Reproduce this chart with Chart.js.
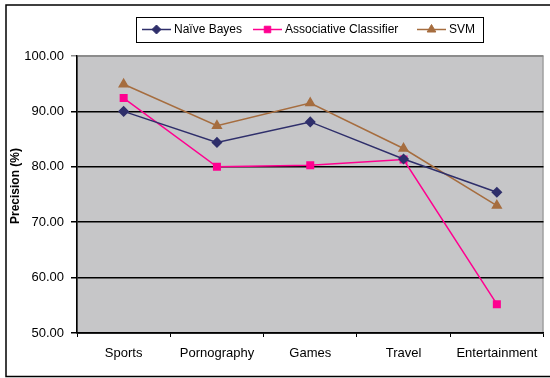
<!DOCTYPE html>
<html>
<head>
<meta charset="utf-8">
<script src="https://cdn.jsdelivr.net/npm/chart.js@4/dist/chart.umd.min.js"></script>
<style>
  html, body { margin: 0; padding: 0; background: #fff; }
  #wrap { width: 550px; height: 378px; }
</style>
</head>
<body>
<div id="wrap"><canvas id="precisionChart" width="550" height="378"></canvas></div>
<script>
// Precision per category for each classifier
const categories = ['Sports', 'Pornography', 'Games', 'Travel', 'Entertainment'];
const naiveBayes = [90.0, 84.4, 88.1, 81.4, 75.4];
const associative = [92.4, 80.0, 80.3, 81.3, 55.2];
const svm = [94.9, 87.4, 91.5, 83.3, 73.0];
const yTicks = [50, 60, 70, 80, 90, 100];
const yTitle = 'Precision (%)';

const FONT = 'Liberation Sans, Arial, Helvetica, sans-serif';

// plot area fill, outer frame, axis title and the boxed legend
const framePlugin = {
  id: 'frame',
  beforeDraw(chart) {
    const { ctx, chartArea: a } = chart;
    ctx.save();
    ctx.fillStyle = '#fff';
    ctx.fillRect(0, 0, chart.width, chart.height);
    ctx.fillStyle = '#c6c6c8';
    ctx.fillRect(a.left, a.top, a.right - a.left, a.bottom - a.top);
    ctx.strokeStyle = '#8c8c8c';
    ctx.lineWidth = 1;
    ctx.strokeRect(a.left + 0.5, a.top + 0.5, a.right - a.left - 1, a.bottom - a.top);
    ctx.restore();
  },
  afterDraw(chart) {
    const { ctx } = chart;
    ctx.save();
    ctx.strokeStyle = '#000';
    ctx.lineWidth = 1.5;
    ctx.strokeRect(6, 5, 600, 371.5);

    // rotated y axis title, sits a little above the plot middle
    ctx.save();
    ctx.translate(16, 186);
    ctx.rotate(-Math.PI / 2);
    ctx.font = 'bold 12px ' + FONT;
    ctx.fillStyle = '#000';
    ctx.textAlign = 'center';
    ctx.textBaseline = 'middle';
    ctx.fillText(yTitle, 0, 0);
    ctx.restore();

    // legend
    const box = { x: 136, y: 17, w: 347, h: 25 };
    ctx.lineWidth = 1;
    ctx.strokeRect(box.x + 0.5, box.y + 0.5, box.w, box.h);
    ctx.font = '12px ' + FONT;
    ctx.textBaseline = 'middle';
    const cy = box.y + box.h / 2;
    const starts = [142, 253, 417];
    chart.data.datasets.forEach((ds, i) => {
      const x = starts[i];
      ctx.strokeStyle = ds.borderColor;
      ctx.fillStyle = ds.borderColor;
      ctx.lineWidth = 1.5;
      ctx.beginPath();
      ctx.moveTo(x, cy);
      ctx.lineTo(x + 29, cy);
      ctx.stroke();
      ctx.lineWidth = 1;
      Chart.helpers.drawPoint(ctx, {
        pointStyle: ds.pointStyle, radius: ds.pointRadius, borderWidth: 1
      }, x + 14.5, cy);
      ctx.fillStyle = '#000';
      ctx.fillText(ds.label, x + 32, cy + 0.5);
    });
    ctx.restore();
  }
};

function series(label, data, color, style, radius) {
  return {
    label, data,
    borderColor: color,
    backgroundColor: color,
    pointBackgroundColor: color,
    pointBorderColor: color,
    pointStyle: style,
    pointRadius: radius,
    pointHoverRadius: radius,
    borderWidth: 1.5,
    tension: 0
  };
}

new Chart(document.getElementById('precisionChart'), {
  type: 'line',
  data: {
    labels: categories,
    datasets: [
      series('Naïve Bayes', naiveBayes, '#2f2f6b', 'rectRot', 4.5),
      series('Associative Classifier', associative, '#ff0090', 'rect', 4.6),
      series('SVM', svm, '#a66d3f', 'triangle', 5)
    ]
  },
  plugins: [framePlugin],
  options: {
    responsive: false,
    animation: false,
    layout: { padding: { left: 0, top: 56, right: 4, bottom: 0 } },
    plugins: {
      legend: { display: false },
      tooltip: { enabled: false }
    },
    scales: {
      x: {
        offset: true,
        grid: {
          offset: true,
          drawOnChartArea: false,
          color: '#000',
          tickLength: 4
        },
        border: { color: '#000', width: 1.5 },
        ticks: { color: '#000', padding: 9, font: { family: FONT, size: 13 } },
        afterFit(scale) { scale.height = 45; }
      },
      y: {
        min: 50,
        max: 100,
        afterBuildTicks(scale) { scale.ticks = yTicks.map(v => ({ value: v })); },
        grid: {
          color: ctx => (ctx.tick && ctx.tick.value === 100 ? '#8c8c8c' : '#000'),
          lineWidth: 1.5,
          tickLength: 6
        },
        border: { color: '#000', width: 1.5 },
        ticks: {
          color: '#000',
          padding: 7,
          font: { family: FONT, size: 13 },
          callback: v => Number(v).toFixed(2)
        },
        afterFit(scale) { scale.width = 77; }
      }
    }
  }
});
</script>
</body>
</html>
